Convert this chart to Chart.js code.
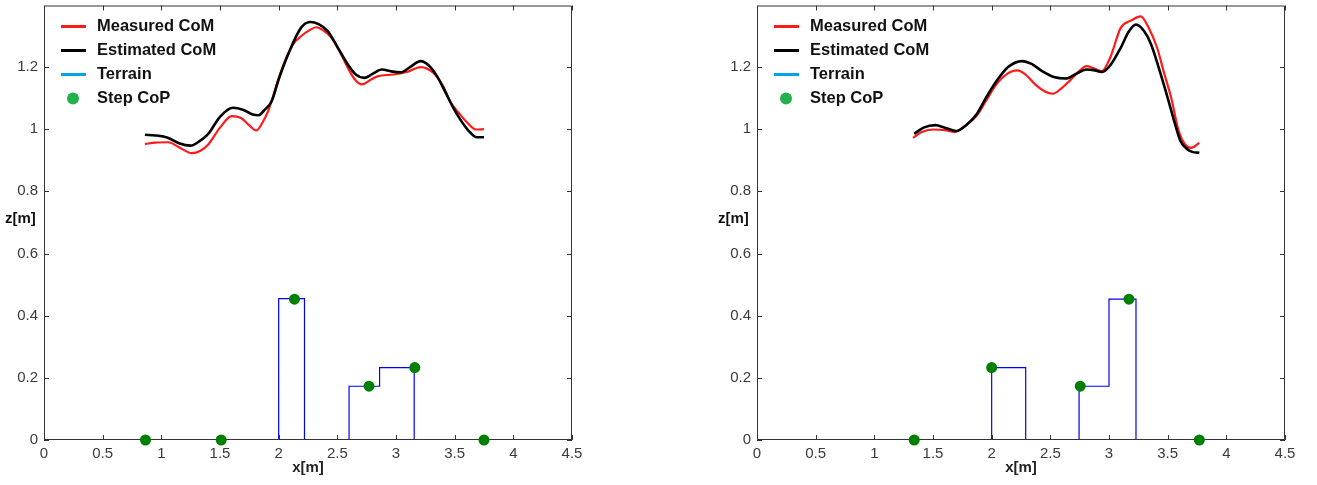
<!DOCTYPE html>
<html>
<head>
<meta charset="utf-8">
<script src="https://cdn.jsdelivr.net/npm/chart.js@4.4.1/dist/chart.umd.min.js"></script>
<style>
  html, body { margin: 0; padding: 0; background: #fff; overflow: hidden; }
  .panel { position: absolute; top: 0; height: 485px; }
  #leftPanel { left: 0; width: 620px; }
  #rightPanel { left: 713px; width: 604px; }
</style>
</head>
<body>
<div class="panel" id="leftPanel"><canvas id="leftChart"></canvas></div>
<div class="panel" id="rightPanel"><canvas id="rightChart"></canvas></div>
<script>
// --- Données ---
const xTicks = [0, 0.5, 1, 1.5, 2, 2.5, 3, 3.5, 4, 4.5];
const zTicks = [0, 0.2, 0.4, 0.6, 0.8, 1, 1.2];
const legendLabels = ['Measured CoM', 'Estimated CoM', 'Terrain', 'Step CoP'];

// graphique gauche
const leftMeasuredX = [0.86, 0.95, 1.06, 1.15, 1.26, 1.33, 1.40, 1.50, 1.60, 1.68, 1.75, 1.81, 1.86, 1.91, 2.02, 2.12, 2.19, 2.26, 2.32, 2.38, 2.45, 2.52, 2.59, 2.65, 2.71, 2.78, 2.84, 2.98, 3.10, 3.21, 3.32, 3.40, 3.46, 3.54, 3.61, 3.68, 3.75];
const leftMeasuredZ = [0.952, 0.957, 0.958, 0.942, 0.923, 0.930, 0.951, 1.005, 1.042, 1.036, 1.012, 0.996, 1.020, 1.058, 1.186, 1.272, 1.299, 1.318, 1.328, 1.318, 1.294, 1.250, 1.197, 1.160, 1.144, 1.158, 1.170, 1.176, 1.185, 1.200, 1.181, 1.140, 1.090, 1.050, 1.020, 0.999, 1.000];
const leftEstimatedX = [0.86, 0.95, 1.06, 1.15, 1.25, 1.32, 1.40, 1.50, 1.61, 1.70, 1.78, 1.83, 1.88, 1.94, 2.00, 2.08, 2.19, 2.27, 2.34, 2.42, 2.50, 2.59, 2.66, 2.73, 2.80, 2.88, 2.96, 3.04, 3.12, 3.21, 3.28, 3.35, 3.42, 3.49, 3.55, 3.61, 3.69, 3.75];
const leftEstimatedZ = [0.982, 0.980, 0.972, 0.955, 0.947, 0.960, 0.985, 1.040, 1.069, 1.062, 1.047, 1.045, 1.062, 1.090, 1.160, 1.240, 1.326, 1.345, 1.338, 1.315, 1.265, 1.208, 1.175, 1.165, 1.178, 1.192, 1.186, 1.183, 1.200, 1.219, 1.205, 1.170, 1.120, 1.068, 1.030, 0.999, 0.974, 0.974];
const leftTerrainX = [0, 2.0, 2.22, 2.6, 2.86, 3.155, 4.5];
const leftTerrainZ = [0, 0.455, 0, 0.173, 0.233, 0, 0];
const leftCopX = [0.865, 1.51, 2.135, 2.77, 3.16, 3.75];
const leftCopZ = [0, 0, 0.453, 0.173, 0.233, 0];

// graphique droit
const rightMeasuredX = [1.33, 1.40, 1.50, 1.60, 1.68, 1.77, 1.87, 1.95, 2.04, 2.12, 2.22, 2.30, 2.37, 2.45, 2.52, 2.59, 2.66, 2.74, 2.81, 2.87, 2.94, 3.01, 3.10, 3.19, 3.27, 3.34, 3.41, 3.47, 3.53, 3.59, 3.65, 3.70, 3.77];
const rightMeasuredZ = [0.972, 0.990, 0.999, 0.997, 0.991, 1.010, 1.042, 1.090, 1.144, 1.175, 1.189, 1.172, 1.144, 1.122, 1.114, 1.130, 1.154, 1.185, 1.203, 1.196, 1.187, 1.230, 1.326, 1.350, 1.363, 1.325, 1.262, 1.180, 1.101, 1.000, 0.950, 0.940, 0.956];
const rightEstimatedX = [1.34, 1.42, 1.52, 1.60, 1.70, 1.78, 1.87, 1.95, 2.04, 2.14, 2.26, 2.34, 2.43, 2.53, 2.63, 2.72, 2.81, 2.87, 2.94, 3.01, 3.10, 3.17, 3.23, 3.30, 3.36, 3.43, 3.50, 3.56, 3.61, 3.67, 3.71, 3.77];
const rightEstimatedZ = [0.985, 1.005, 1.013, 1.005, 0.994, 1.012, 1.047, 1.100, 1.154, 1.200, 1.219, 1.210, 1.187, 1.168, 1.163, 1.178, 1.192, 1.190, 1.184, 1.205, 1.262, 1.315, 1.337, 1.315, 1.272, 1.190, 1.101, 1.020, 0.961, 0.935, 0.927, 0.924];
const rightTerrainX = [0, 2.0, 2.29, 2.745, 3.0, 3.23, 4.5];
const rightTerrainZ = [0, 0.233, 0, 0.173, 0.453, 0, 0];
const rightCopX = [1.34, 2.0, 2.755, 3.17, 3.77];
const rightCopZ = [0, 0.233, 0.173, 0.453, 0];

Chart.defaults.font.family = '"Liberation Sans", Arial, sans-serif';

function toPoints(xs, zs) {
    return xs.map((x, i) => ({ x: x, y: zs[i] }));
}

// Cadre façon MATLAB avec graduations vers l'intérieur
const boxPlugin = {
    id: 'matlabBox',
    afterDatasetDraw(chart, args) {
        if (args.index !== 2) return; // juste après le terrain
        const { ctx, chartArea: a, scales } = chart;
        const len = 5;
        ctx.save();
        ctx.strokeStyle = '#333';
        ctx.lineWidth = 1;
        ctx.beginPath();
        ctx.rect(a.left + 0.5, a.top + 0.5, a.right - a.left - 1, a.bottom - a.top - 1);
        xTicks.forEach(v => {
            const px = Math.round(scales.x.getPixelForValue(v)) + 0.5;
            ctx.moveTo(px, a.bottom); ctx.lineTo(px, a.bottom - len);
            ctx.moveTo(px, a.top); ctx.lineTo(px, a.top + len);
        });
        zTicks.forEach(v => {
            const py = Math.round(scales.y.getPixelForValue(v)) + 0.5;
            ctx.moveTo(a.left, py); ctx.lineTo(a.left + len, py);
            ctx.moveTo(a.right, py); ctx.lineTo(a.right - len, py);
        });
        ctx.stroke();
        ctx.restore();
    }
};

// Légende dans le coin + étiquette z[m] horizontale
const legendPlugin = {
    id: 'insideLegend',
    afterDraw(chart) {
        const { ctx, chartArea: a } = chart;
        const colors = ['#ff1a1a', '#000000', '#00a2e8', '#22b14c'];
        ctx.save();
        ctx.font = 'bold 16.5px "Liberation Sans", Arial, sans-serif';
        ctx.textBaseline = 'middle';
        ctx.fillStyle = '#111';
        legendLabels.forEach((label, i) => {
            const y = a.top + 21 + 24 * i;
            if (i < 3) {
                ctx.strokeStyle = colors[i];
                ctx.lineWidth = 3;
                ctx.beginPath();
                ctx.moveTo(a.left + 17, y);
                ctx.lineTo(a.left + 42, y);
                ctx.stroke();
            } else {
                ctx.fillStyle = colors[i];
                ctx.beginPath();
                ctx.arc(a.left + 29, y, 6, 0, Math.PI * 2);
                ctx.fill();
                ctx.fillStyle = '#111';
            }
            ctx.fillText(label, a.left + 53, y);
        });
        ctx.font = 'bold 15px "Liberation Sans", Arial, sans-serif';
        ctx.fillText('z[m]', a.left - 39, 219);
        ctx.restore();
    }
};

const fmt = v => String(+(+v).toFixed(1));

function createPanel(ctxId, measuredX, measuredZ, estimatedX, estimatedZ, terrainX, terrainZ, copX, copZ, rightPad) {
    const ctx = document.getElementById(ctxId).getContext('2d');
    new Chart(ctx, {
        type: 'scatter',
        data: {
            datasets: [
                { label: legendLabels[0], data: toPoints(measuredX, measuredZ), showLine: true,
                  borderColor: '#ff1a1a', borderWidth: 2.2, pointRadius: 0, cubicInterpolationMode: 'monotone', order: 2 },
                { label: legendLabels[1], data: toPoints(estimatedX, estimatedZ), showLine: true,
                  borderColor: '#000000', borderWidth: 2.6, pointRadius: 0, cubicInterpolationMode: 'monotone', order: 1 },
                { label: legendLabels[2], data: toPoints(terrainX, terrainZ), showLine: true, stepped: 'before',
                  borderColor: '#0000ff', borderWidth: 1.2, pointRadius: 0, order: 3 },
                { label: legendLabels[3], data: toPoints(copX, copZ), showLine: false,
                  backgroundColor: '#008000', borderWidth: 0, pointRadius: 5.5, clip: false, order: 0 }
            ]
        },
        options: {
            responsive: true, maintainAspectRatio: false, animation: false,
            layout: { padding: { top: 4, right: rightPad, left: 0, bottom: 0 } },
            plugins: { legend: { display: false }, tooltip: { enabled: false } },
            scales: {
                x: {
                    type: 'linear', min: 0, max: 4.5,
                    afterFit: s => { s.height = 45; s.paddingLeft = 0; s.paddingRight = 0; },
                    afterBuildTicks: s => { s.ticks = xTicks.map(v => ({ value: v })); },
                    grid: { display: false, drawTicks: false }, border: { display: false },
                    ticks: { padding: 5, color: '#3a3a3a', font: { size: 15 }, maxRotation: 0, autoSkip: false, callback: fmt },
                    title: { display: true, text: 'x[m]', color: '#222', font: { size: 15, weight: 'bold' }, padding: { top: 0, bottom: 8 } }
                },
                y: {
                    type: 'linear', min: 0, max: 1.398,
                    afterFit: s => { s.width = 44; s.paddingTop = 0; s.paddingBottom = 0; },
                    afterBuildTicks: s => { s.ticks = zTicks.map(v => ({ value: v })); },
                    grid: { display: false, drawTicks: false }, border: { display: false },
                    ticks: { padding: 6, color: '#3a3a3a', font: { size: 15 }, autoSkip: false, callback: fmt }
                }
            }
        },
        plugins: [boxPlugin, legendPlugin]
    });
}

createPanel('leftChart', leftMeasuredX, leftMeasuredZ, leftEstimatedX, leftEstimatedZ, leftTerrainX, leftTerrainZ, leftCopX, leftCopZ, 48);
createPanel('rightChart', rightMeasuredX, rightMeasuredZ, rightEstimatedX, rightEstimatedZ, rightTerrainX, rightTerrainZ, rightCopX, rightCopZ, 32);
</script>
</body>
</html>
